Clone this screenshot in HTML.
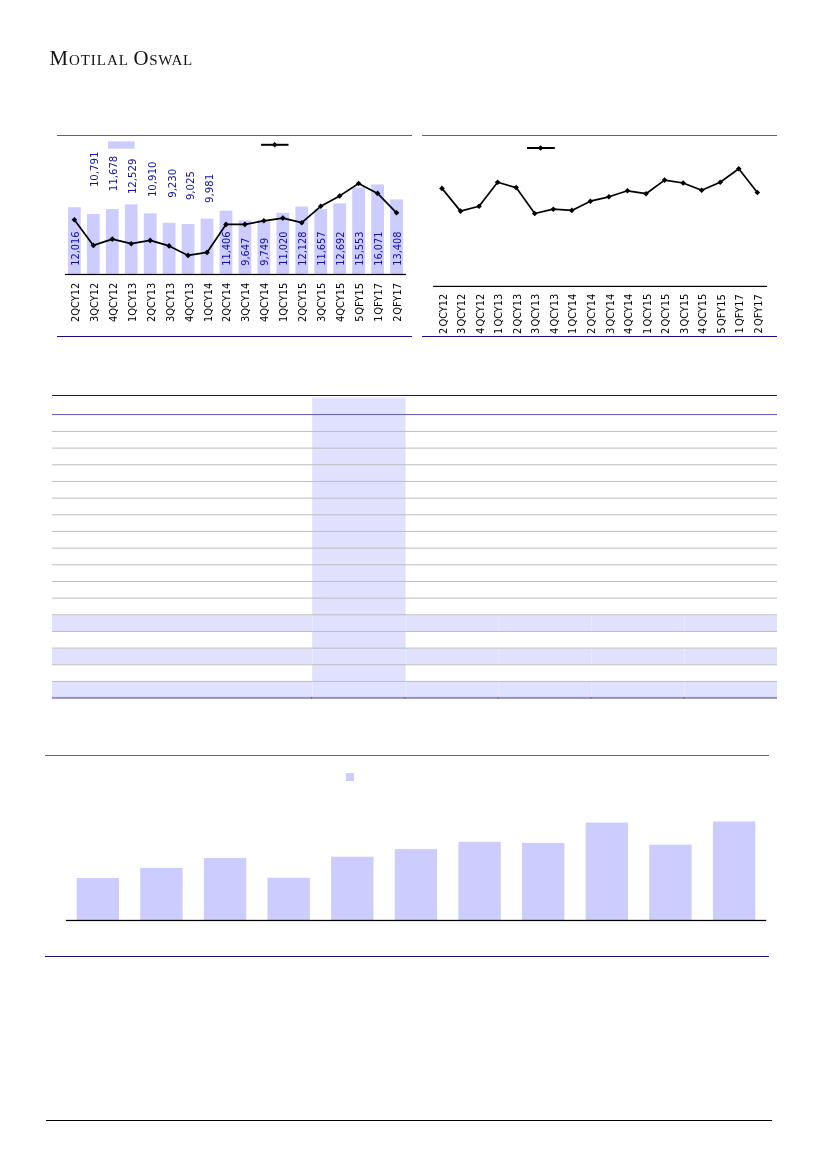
<!DOCTYPE html>
<html lang="en"><head><meta charset="utf-8"><title>Motilal Oswal</title>
<style>
html,body{margin:0;padding:0;background:#fff}
body{width:827px;height:1169px;position:relative;overflow:hidden;font-family:"Liberation Sans",sans-serif}
.l{position:absolute;height:1px}
.r{position:absolute}
#logo{position:absolute;left:0;top:44px;width:300px;height:28px;font-family:"Liberation Serif",serif;color:#111;white-space:nowrap;line-height:28px}
#logo span{position:absolute;top:0}
#logo b{font-weight:normal;font-size:20.8px}
#logo i{font-style:normal;font-size:15px}
svg{position:absolute;left:0;top:0}
svg text{font-family:"DejaVu Sans Condensed","DejaVu Sans","Liberation Sans",sans-serif;font-stretch:condensed}
.dl{font-size:10.6px;fill:#10109c}
.cl{font-size:10.6px;fill:#000}
.cl2{font-size:10.6px;fill:#000}
</style></head><body>
<div id="logo"><span style="left:49.5px;letter-spacing:0.95px"><b>M</b><i>OTILAL</i> </span><span style="left:133.5px;letter-spacing:0.7px"><b>O</b><i>SWAL</i></span></div>
<div class="l" style="left:57px;width:355px;top:135px;background:#6058aa"></div>
<div class="l" style="left:57px;width:355px;top:336px;background:#1f0a82"></div>
<div class="l" style="left:422px;width:355px;top:135px;background:#6058aa"></div>
<div class="l" style="left:422px;width:355px;top:336px;background:#1f0a82"></div>
<div class="l" style="left:45px;width:724px;top:755px;background:#6058aa"></div>
<div class="l" style="left:45px;width:724px;top:956px;background:#1f0a82"></div>
<div class="l" style="left:46px;width:726px;top:1120px;background:#000"></div>
<svg width="827" height="1169" viewBox="0 0 827 1169">
<rect x="312.20" y="397.60" width="93.40" height="283.85" fill="#e0e0ff"/>
<rect x="52.00" y="615.28" width="725.00" height="15.67" fill="#e0e0ff"/>
<rect x="311.90" y="615.28" width="1.00" height="15.67" fill="#eaeaff"/>
<rect x="405.30" y="615.28" width="1.00" height="15.67" fill="#eaeaff"/>
<rect x="498.20" y="615.28" width="1.00" height="15.67" fill="#eaeaff"/>
<rect x="591.20" y="615.28" width="1.00" height="15.67" fill="#eaeaff"/>
<rect x="684.10" y="615.28" width="1.00" height="15.67" fill="#eaeaff"/>
<rect x="52.00" y="648.62" width="725.00" height="15.67" fill="#e0e0ff"/>
<rect x="311.90" y="648.62" width="1.00" height="15.67" fill="#eaeaff"/>
<rect x="405.30" y="648.62" width="1.00" height="15.67" fill="#eaeaff"/>
<rect x="498.20" y="648.62" width="1.00" height="15.67" fill="#eaeaff"/>
<rect x="591.20" y="648.62" width="1.00" height="15.67" fill="#eaeaff"/>
<rect x="684.10" y="648.62" width="1.00" height="15.67" fill="#eaeaff"/>
<rect x="52.00" y="681.95" width="725.00" height="15.05" fill="#e0e0ff"/>
<rect x="311.90" y="681.95" width="1.00" height="15.05" fill="#eaeaff"/>
<rect x="405.30" y="681.95" width="1.00" height="15.05" fill="#eaeaff"/>
<rect x="498.20" y="681.95" width="1.00" height="15.05" fill="#eaeaff"/>
<rect x="591.20" y="681.95" width="1.00" height="15.05" fill="#eaeaff"/>
<rect x="684.10" y="681.95" width="1.00" height="15.05" fill="#eaeaff"/>
<rect x="52.00" y="394.97" width="725.00" height="1.00" fill="#1f0a82"/>
<rect x="52.00" y="414.07" width="725.00" height="1.00" fill="#6058aa"/>
<rect x="52.00" y="430.95" width="725.00" height="1.00" fill="#bdbdbd"/>
<rect x="52.00" y="447.62" width="725.00" height="1.00" fill="#bdbdbd"/>
<rect x="52.00" y="464.28" width="725.00" height="1.00" fill="#bdbdbd"/>
<rect x="52.00" y="480.95" width="725.00" height="1.00" fill="#bdbdbd"/>
<rect x="52.00" y="497.62" width="725.00" height="1.00" fill="#bdbdbd"/>
<rect x="52.00" y="514.28" width="725.00" height="1.00" fill="#bdbdbd"/>
<rect x="52.00" y="530.95" width="725.00" height="1.00" fill="#bdbdbd"/>
<rect x="52.00" y="547.62" width="725.00" height="1.00" fill="#bdbdbd"/>
<rect x="52.00" y="564.28" width="725.00" height="1.00" fill="#bdbdbd"/>
<rect x="52.00" y="580.95" width="725.00" height="1.00" fill="#bdbdbd"/>
<rect x="52.00" y="597.62" width="725.00" height="1.00" fill="#bdbdbd"/>
<rect x="52.00" y="614.28" width="725.00" height="1.00" fill="#bdbdbd"/>
<rect x="52.00" y="630.95" width="725.00" height="1.00" fill="#bdbdbd"/>
<rect x="52.00" y="647.62" width="725.00" height="1.00" fill="#bdbdbd"/>
<rect x="52.00" y="664.28" width="725.00" height="1.00" fill="#bdbdbd"/>
<rect x="52.00" y="680.95" width="725.00" height="1.00" fill="#bdbdbd"/>
<rect x="52.00" y="696.90" width="725.00" height="2.00" fill="#9590ca"/>
<rect x="311.00" y="697.00" width="1.00" height="1.60" fill="#5a56a6"/>
<rect x="404.40" y="697.00" width="1.00" height="1.60" fill="#5a56a6"/>
<rect x="497.40" y="697.00" width="1.00" height="1.60" fill="#5a56a6"/>
<rect x="590.40" y="697.00" width="1.00" height="1.60" fill="#5a56a6"/>
<rect x="683.40" y="697.00" width="1.00" height="1.60" fill="#5a56a6"/>
<rect x="68.00" y="207.21" width="12.76" height="67.29" fill="#ccccff"/>
<rect x="86.95" y="214.07" width="12.76" height="60.43" fill="#ccccff"/>
<rect x="105.90" y="209.10" width="12.76" height="65.40" fill="#ccccff"/>
<rect x="124.85" y="204.34" width="12.76" height="70.16" fill="#ccccff"/>
<rect x="143.80" y="213.40" width="12.76" height="61.10" fill="#ccccff"/>
<rect x="162.75" y="222.81" width="12.76" height="51.69" fill="#ccccff"/>
<rect x="181.70" y="223.96" width="12.76" height="50.54" fill="#ccccff"/>
<rect x="200.65" y="218.61" width="12.76" height="55.89" fill="#ccccff"/>
<rect x="219.60" y="210.63" width="12.76" height="63.87" fill="#ccccff"/>
<rect x="238.55" y="220.48" width="12.76" height="54.02" fill="#ccccff"/>
<rect x="257.50" y="219.91" width="12.76" height="54.59" fill="#ccccff"/>
<rect x="276.45" y="212.79" width="12.76" height="61.71" fill="#ccccff"/>
<rect x="295.40" y="206.58" width="12.76" height="67.92" fill="#ccccff"/>
<rect x="314.35" y="209.22" width="12.76" height="65.28" fill="#ccccff"/>
<rect x="333.30" y="203.42" width="12.76" height="71.08" fill="#ccccff"/>
<rect x="352.25" y="187.40" width="12.76" height="87.10" fill="#ccccff"/>
<rect x="371.20" y="184.50" width="12.76" height="90.00" fill="#ccccff"/>
<rect x="390.15" y="199.42" width="12.76" height="75.08" fill="#ccccff"/>
<rect x="108" y="141.4" width="26.6" height="7.3" fill="#ccccff"/>
<rect x="64.9" y="273.85" width="341" height="1.25" fill="#000"/>
<text class="dl" transform="translate(78.63,265.80) rotate(-90) scale(1.03,1)">12,016</text>
<text class="dl" transform="translate(97.68,187.10) rotate(-90) scale(1.065,1)">10,791</text>
<text class="dl" transform="translate(116.53,191.20) rotate(-90) scale(1.065,1)">11,678</text>
<text class="dl" transform="translate(136.48,194.10) rotate(-90) scale(1.065,1)">12,529</text>
<text class="dl" transform="translate(155.53,197.10) rotate(-90) scale(1.065,1)">10,910</text>
<text class="dl" transform="translate(175.58,197.80) rotate(-90) scale(1.065,1)">9,230</text>
<text class="dl" transform="translate(193.63,200.10) rotate(-90) scale(1.065,1)">9,025</text>
<text class="dl" transform="translate(212.88,202.90) rotate(-90) scale(1.065,1)">9,981</text>
<text class="dl" transform="translate(230.03,265.80) rotate(-90) scale(1.03,1)">11,406</text>
<text class="dl" transform="translate(248.98,265.80) rotate(-90) scale(1.03,1)">9,647</text>
<text class="dl" transform="translate(267.93,265.80) rotate(-90) scale(1.03,1)">9,749</text>
<text class="dl" transform="translate(286.88,265.80) rotate(-90) scale(1.03,1)">11,020</text>
<text class="dl" transform="translate(305.83,265.80) rotate(-90) scale(1.03,1)">12,128</text>
<text class="dl" transform="translate(324.78,265.80) rotate(-90) scale(1.03,1)">11,657</text>
<text class="dl" transform="translate(343.73,265.80) rotate(-90) scale(1.03,1)">12,692</text>
<text class="dl" transform="translate(362.68,265.80) rotate(-90) scale(1.03,1)">15,553</text>
<text class="dl" transform="translate(381.63,265.80) rotate(-90) scale(1.03,1)">16,071</text>
<text class="dl" transform="translate(400.58,265.80) rotate(-90) scale(1.03,1)">13,408</text>
<polyline points="74.38,219.8 93.33,245.4 112.28,239.1 131.23,243.7 150.18,240.4 169.13,245.9 188.08,255.4 207.03,252.4 225.98,224.4 244.93,224.4 263.88,220.8 282.83,218.1 301.78,222.7 320.73,206.3 339.68,195.9 358.63,183.5 377.58,193.4 396.53,212.8" fill="none" stroke="#000" stroke-width="1.7" stroke-linejoin="round"/>
<path d="M71.58,219.80L74.38,217.00L77.18,219.80L74.38,222.60ZM90.53,245.40L93.33,242.60L96.13,245.40L93.33,248.20ZM109.48,239.10L112.28,236.30L115.08,239.10L112.28,241.90ZM128.43,243.70L131.23,240.90L134.03,243.70L131.23,246.50ZM147.38,240.40L150.18,237.60L152.98,240.40L150.18,243.20ZM166.33,245.90L169.13,243.10L171.93,245.90L169.13,248.70ZM185.28,255.40L188.08,252.60L190.88,255.40L188.08,258.20ZM204.23,252.40L207.03,249.60L209.83,252.40L207.03,255.20ZM223.18,224.40L225.98,221.60L228.78,224.40L225.98,227.20ZM242.13,224.40L244.93,221.60L247.73,224.40L244.93,227.20ZM261.08,220.80L263.88,218.00L266.68,220.80L263.88,223.60ZM280.03,218.10L282.83,215.30L285.63,218.10L282.83,220.90ZM298.98,222.70L301.78,219.90L304.58,222.70L301.78,225.50ZM317.93,206.30L320.73,203.50L323.53,206.30L320.73,209.10ZM336.88,195.90L339.68,193.10L342.48,195.90L339.68,198.70ZM355.83,183.50L358.63,180.70L361.43,183.50L358.63,186.30ZM374.78,193.40L377.58,190.60L380.38,193.40L377.58,196.20ZM393.73,212.80L396.53,210.00L399.33,212.80L396.53,215.60ZM271.90,144.80L274.70,142.00L277.50,144.80L274.70,147.60Z" fill="#000"/>
<rect x="261" y="143.8" width="27.5" height="2" fill="#000"/>
<text class="cl" text-anchor="middle" transform="translate(78.88,302.35) rotate(-90) scale(1.035,1)">2<tspan dx="0">QCY12</tspan></text>
<text class="cl" text-anchor="middle" transform="translate(97.83,302.35) rotate(-90) scale(1.035,1)">3<tspan dx="0">QCY12</tspan></text>
<text class="cl" text-anchor="middle" transform="translate(116.78,302.35) rotate(-90) scale(1.035,1)">4<tspan dx="0">QCY12</tspan></text>
<text class="cl" text-anchor="middle" transform="translate(135.73,302.35) rotate(-90) scale(1.035,1)">1<tspan dx="0">QCY13</tspan></text>
<text class="cl" text-anchor="middle" transform="translate(154.68,302.35) rotate(-90) scale(1.035,1)">2<tspan dx="0">QCY13</tspan></text>
<text class="cl" text-anchor="middle" transform="translate(173.63,302.35) rotate(-90) scale(1.035,1)">3<tspan dx="0">QCY13</tspan></text>
<text class="cl" text-anchor="middle" transform="translate(192.58,302.35) rotate(-90) scale(1.035,1)">4<tspan dx="0">QCY13</tspan></text>
<text class="cl" text-anchor="middle" transform="translate(211.53,302.35) rotate(-90) scale(1.035,1)">1<tspan dx="0">QCY14</tspan></text>
<text class="cl" text-anchor="middle" transform="translate(230.48,302.35) rotate(-90) scale(1.035,1)">2<tspan dx="0">QCY14</tspan></text>
<text class="cl" text-anchor="middle" transform="translate(249.43,302.35) rotate(-90) scale(1.035,1)">3<tspan dx="0">QCY14</tspan></text>
<text class="cl" text-anchor="middle" transform="translate(268.38,302.35) rotate(-90) scale(1.035,1)">4<tspan dx="0">QCY14</tspan></text>
<text class="cl" text-anchor="middle" transform="translate(287.33,302.35) rotate(-90) scale(1.035,1)">1<tspan dx="0">QCY15</tspan></text>
<text class="cl" text-anchor="middle" transform="translate(306.28,302.35) rotate(-90) scale(1.035,1)">2<tspan dx="0">QCY15</tspan></text>
<text class="cl" text-anchor="middle" transform="translate(325.23,302.35) rotate(-90) scale(1.035,1)">3<tspan dx="0">QCY15</tspan></text>
<text class="cl" text-anchor="middle" transform="translate(344.18,302.35) rotate(-90) scale(1.035,1)">4<tspan dx="0">QCY15</tspan></text>
<text class="cl" text-anchor="middle" transform="translate(363.13,302.35) rotate(-90) scale(1.035,1)">5<tspan dx="0.6">QFY15</tspan></text>
<text class="cl" text-anchor="middle" transform="translate(382.08,302.35) rotate(-90) scale(1.035,1)">1<tspan dx="0.6">QFY17</tspan></text>
<text class="cl" text-anchor="middle" transform="translate(401.03,302.35) rotate(-90) scale(1.035,1)">2<tspan dx="0.6">QFY17</tspan></text>
<polyline points="441.97,188.4 460.52,211.1 479.07,206.3 497.62,182.3 516.17,187.6 534.73,213.5 553.27,209.2 571.83,210.4 590.38,201.2 608.92,196.8 627.48,190.8 646.02,193.7 664.58,180.1 683.12,183.0 701.67,190.3 720.23,182.3 738.77,168.8 757.33,192.5" fill="none" stroke="#000" stroke-width="1.7" stroke-linejoin="round"/>
<path d="M439.17,188.40L441.97,185.60L444.77,188.40L441.97,191.20ZM457.72,211.10L460.52,208.30L463.32,211.10L460.52,213.90ZM476.27,206.30L479.07,203.50L481.88,206.30L479.07,209.10ZM494.82,182.30L497.62,179.50L500.43,182.30L497.62,185.10ZM513.38,187.60L516.17,184.80L518.97,187.60L516.17,190.40ZM531.93,213.50L534.73,210.70L537.52,213.50L534.73,216.30ZM550.48,209.20L553.27,206.40L556.07,209.20L553.27,212.00ZM569.03,210.40L571.83,207.60L574.62,210.40L571.83,213.20ZM587.58,201.20L590.38,198.40L593.17,201.20L590.38,204.00ZM606.12,196.80L608.92,194.00L611.72,196.80L608.92,199.60ZM624.68,190.80L627.48,188.00L630.27,190.80L627.48,193.60ZM643.23,193.70L646.02,190.90L648.82,193.70L646.02,196.50ZM661.78,180.10L664.58,177.30L667.38,180.10L664.58,182.90ZM680.33,183.00L683.12,180.20L685.92,183.00L683.12,185.80ZM698.88,190.30L701.67,187.50L704.47,190.30L701.67,193.10ZM717.43,182.30L720.23,179.50L723.02,182.30L720.23,185.10ZM735.98,168.80L738.77,166.00L741.57,168.80L738.77,171.60ZM754.53,192.50L757.33,189.70L760.12,192.50L757.33,195.30ZM537.80,148.00L540.60,145.20L543.40,148.00L540.60,150.80Z" fill="#000"/>
<rect x="527" y="147" width="27.8" height="2" fill="#000"/>
<rect x="433.1" y="285.8" width="333.9" height="1.2" fill="#000"/>
<text class="cl2" text-anchor="middle" transform="translate(446.57,313.8) rotate(-90) scale(1.035,1)">2<tspan dx="1">QCY12</tspan></text>
<text class="cl2" text-anchor="middle" transform="translate(465.12,313.8) rotate(-90) scale(1.035,1)">3<tspan dx="1">QCY12</tspan></text>
<text class="cl2" text-anchor="middle" transform="translate(483.68,313.8) rotate(-90) scale(1.035,1)">4<tspan dx="1">QCY12</tspan></text>
<text class="cl2" text-anchor="middle" transform="translate(502.23,313.8) rotate(-90) scale(1.035,1)">1<tspan dx="1">QCY13</tspan></text>
<text class="cl2" text-anchor="middle" transform="translate(520.77,313.8) rotate(-90) scale(1.035,1)">2<tspan dx="1">QCY13</tspan></text>
<text class="cl2" text-anchor="middle" transform="translate(539.33,313.8) rotate(-90) scale(1.035,1)">3<tspan dx="1">QCY13</tspan></text>
<text class="cl2" text-anchor="middle" transform="translate(557.88,313.8) rotate(-90) scale(1.035,1)">4<tspan dx="1">QCY13</tspan></text>
<text class="cl2" text-anchor="middle" transform="translate(576.43,313.8) rotate(-90) scale(1.035,1)">1<tspan dx="1">QCY14</tspan></text>
<text class="cl2" text-anchor="middle" transform="translate(594.98,313.8) rotate(-90) scale(1.035,1)">2<tspan dx="1">QCY14</tspan></text>
<text class="cl2" text-anchor="middle" transform="translate(613.52,313.8) rotate(-90) scale(1.035,1)">3<tspan dx="1">QCY14</tspan></text>
<text class="cl2" text-anchor="middle" transform="translate(632.08,313.8) rotate(-90) scale(1.035,1)">4<tspan dx="1">QCY14</tspan></text>
<text class="cl2" text-anchor="middle" transform="translate(650.62,313.8) rotate(-90) scale(1.035,1)">1<tspan dx="1">QCY15</tspan></text>
<text class="cl2" text-anchor="middle" transform="translate(669.18,313.8) rotate(-90) scale(1.035,1)">2<tspan dx="1">QCY15</tspan></text>
<text class="cl2" text-anchor="middle" transform="translate(687.73,313.8) rotate(-90) scale(1.035,1)">3<tspan dx="1">QCY15</tspan></text>
<text class="cl2" text-anchor="middle" transform="translate(706.27,313.8) rotate(-90) scale(1.035,1)">4<tspan dx="1">QCY15</tspan></text>
<text class="cl2" text-anchor="middle" transform="translate(724.83,313.8) rotate(-90) scale(1.035,1)">5<tspan dx="1">QFY15</tspan></text>
<text class="cl2" text-anchor="middle" transform="translate(743.38,313.8) rotate(-90) scale(1.035,1)">1<tspan dx="1">QFY17</tspan></text>
<text class="cl2" text-anchor="middle" transform="translate(761.93,313.8) rotate(-90) scale(1.035,1)">2<tspan dx="1">QFY17</tspan></text>
<rect x="76.60" y="878" width="42.4" height="42.30" fill="#ccccff"/>
<rect x="140.23" y="867.9" width="42.4" height="52.40" fill="#ccccff"/>
<rect x="203.86" y="857.9" width="42.4" height="62.40" fill="#ccccff"/>
<rect x="267.49" y="877.8" width="42.4" height="42.50" fill="#ccccff"/>
<rect x="331.12" y="856.7" width="42.4" height="63.60" fill="#ccccff"/>
<rect x="394.75" y="849.1" width="42.4" height="71.20" fill="#ccccff"/>
<rect x="458.38" y="841.8" width="42.4" height="78.50" fill="#ccccff"/>
<rect x="522.01" y="842.9" width="42.4" height="77.40" fill="#ccccff"/>
<rect x="585.64" y="822.6" width="42.4" height="97.70" fill="#ccccff"/>
<rect x="649.27" y="844.7" width="42.4" height="75.60" fill="#ccccff"/>
<rect x="712.90" y="821.5" width="42.4" height="98.80" fill="#ccccff"/>
<rect x="346" y="773" width="8" height="8" fill="#ccccff"/>
<rect x="65.9" y="919.85" width="700.3" height="1.25" fill="#000"/>
</svg>
</body></html>
